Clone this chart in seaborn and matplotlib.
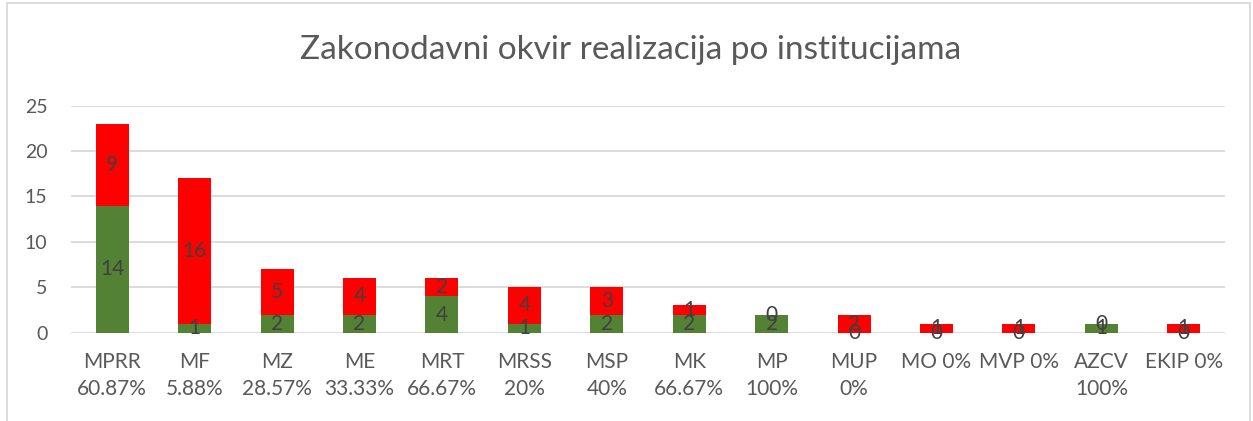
import numpy as np
import pandas as pd
import matplotlib
matplotlib.use("Agg")
import matplotlib.pyplot as plt
from matplotlib.patches import Rectangle
import seaborn as sns

# Data
institucije = ["MPRR\n60.87%", "MF\n5.88%", "MZ\n28.57%", "ME\n33.33%", "MRT\n66.67%",
               "MRSS\n20%", "MSP\n40%", "MK\n66.67%", "MP\n100%", "MUP\n0%",
               "MO 0%", "MVP 0%", "AZCV\n100%", "EKIP 0%"]
realizovano = [14, 1, 2, 2, 4, 1, 2, 2, 2, 0, 0, 0, 1, 0]
nerealizovano = [9, 16, 5, 4, 2, 4, 3, 1, 0, 2, 1, 1, 0, 1]

df = pd.DataFrame({"inst": institucije, "real": realizovano, "nereal": nerealizovano})
df["ukupno"] = df["real"] + df["nereal"]

sns.set_style("white")
plt.rcParams["font.family"] = ["Lato", "DejaVu Sans"]

fig = plt.figure(figsize=(12.53, 4.21), dpi=100)
ax = fig.add_axes([71 / 1253, 1 - 332.7 / 421, (1225 - 71) / 1253, 227 / 421])

sns.barplot(data=df, x="inst", y="ukupno", color="#FF0000", width=0.4,
            saturation=1, linewidth=0, ax=ax, zorder=2)
sns.barplot(data=df, x="inst", y="real", color="#548235", width=0.4,
            saturation=1, linewidth=0, ax=ax, zorder=3)

# value labels in the middle of each segment
for i, (g, r) in enumerate(zip(df["real"], df["nereal"])):
    ax.text(i, g / 2, str(g), ha="center", va="center", fontsize=15,
            color="#404040", zorder=5)
    ax.text(i, g + r / 2, str(r), ha="center", va="center", fontsize=15,
            color="#404040", zorder=5)

ax.set_ylim(0, 25)
ax.set_xlim(-0.5, len(df) - 0.5)
ax.set_yticks([0, 5, 10, 15, 20, 25])
ax.yaxis.grid(True, color="#D9D9D9", linewidth=1.3, zorder=0)
ax.set_axisbelow(True)
for s in ax.spines.values():
    s.set_visible(False)
ax.set_xlabel("")
ax.set_ylabel("")
ax.tick_params(axis="y", length=0, pad=17, labelsize=14, labelcolor="#595959")
ax.tick_params(axis="x", length=0, pad=14, labelsize=15, labelcolor="#595959")
for lbl in ax.get_xticklabels():
    lbl.set_linespacing(1.45)

fig.text(0.503, 1 - 50 / 421, "Zakonodavni okvir realizacija po institucijama",
         ha="center", va="center", fontsize=24, color="#595959")

fig.patches.append(Rectangle((7 / 1253, -0.05), (1250 - 7) / 1253, 1.05 - 3 / 421,
                             transform=fig.transFigure, fill=False,
                             edgecolor="#D9D9D9", linewidth=1.3))

fig.savefig("out.png", dpi=100)
